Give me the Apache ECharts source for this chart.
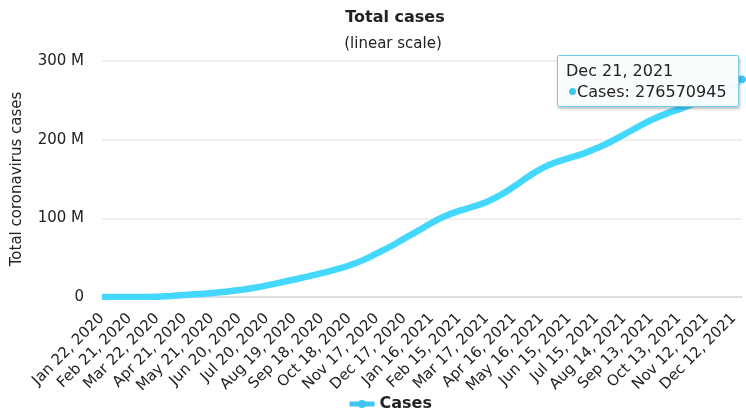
<!DOCTYPE html>
<html>
<head>
<meta charset="utf-8">
<script src="https://cdn.jsdelivr.net/npm/echarts@6/dist/echarts.min.js"></script>
<style>
html,body{margin:0;padding:0;background:#fff;}
#chart{width:746px;height:417px;}
</style>
</head>
<body>
<div id="chart"></div>
<script>
// Category axis: daily dates from Jan 22, 2020 to Dec 21, 2021
var startDate = [2020, 0, 22];
var dayCount = 700;
var monthNames = ['Jan','Feb','Mar','Apr','May','Jun','Jul','Aug','Sep','Oct','Nov','Dec'];
function fmt(d){ return monthNames[d.getUTCMonth()] + ' ' + d.getUTCDate() + ', ' + d.getUTCFullYear(); }
var categories = [];
for (var i = 0; i < dayCount; i++) {
  categories.push(fmt(new Date(Date.UTC(startDate[0], startDate[1], startDate[2] + i))));
}

var sampleDates = [
  'Jan 22, 2020','Feb 6, 2020','Feb 21, 2020','Mar 7, 2020','Mar 22, 2020','Apr 6, 2020','Apr 21, 2020',
  'May 6, 2020','May 21, 2020','Jun 5, 2020','Jun 20, 2020','Jul 5, 2020','Jul 20, 2020','Aug 4, 2020',
  'Aug 19, 2020','Sep 3, 2020','Sep 18, 2020','Oct 3, 2020','Oct 18, 2020','Nov 2, 2020','Nov 17, 2020',
  'Dec 2, 2020','Dec 17, 2020','Jan 1, 2021','Jan 16, 2021','Jan 31, 2021','Feb 15, 2021','Mar 2, 2021',
  'Mar 17, 2021','Apr 1, 2021','Apr 16, 2021','May 1, 2021','May 16, 2021','May 31, 2021','Jun 15, 2021',
  'Jun 30, 2021','Jul 15, 2021','Jul 30, 2021','Aug 14, 2021','Aug 29, 2021','Sep 13, 2021','Sep 28, 2021',
  'Oct 13, 2021','Oct 28, 2021','Nov 12, 2021','Nov 27, 2021','Dec 12, 2021','Dec 21, 2021'
];
var caseValues = [
  557, 30800, 78600, 105800, 337000, 1346000, 2550000,
  3780000, 5100000, 6730000, 8780000, 11400000, 14700000, 18400000,
  22300000, 26200000, 30400000, 34800000, 40100000, 46900000, 55400000,
  64200000, 74300000, 84000000, 94200000, 102900000, 109400000, 114700000,
  120900000, 129500000, 140500000, 152600000, 163300000, 171000000, 176500000,
  182000000, 189000000, 197000000, 206500000, 216000000, 225000000, 232500000,
  238500000, 245000000, 252000000, 260800000, 270000000, 276570945
];
var yTicks = [0, 100000000, 200000000, 300000000];
var seriesName = 'Cases';

var lineColor = '#3ec5f3';
var fontFam = '"DejaVu Sans", Verdana, sans-serif';

var chart = echarts.init(document.getElementById('chart'));
var seriesData = sampleDates.map(function(d, i){ return [d, caseValues[i]]; });

chart.setOption({
  animation: false,
  textStyle: { fontFamily: fontFam },
  title: [
    { text: 'Total cases', left: 390, textAlign: 'center', top: 5,
      textStyle: { fontFamily: fontFam, fontSize: 16, fontWeight: 'bold', color: '#222' } },
    { text: '(linear scale)', left: 388, textAlign: 'center', top: 32,
      textStyle: { fontFamily: fontFam, fontSize: 15, fontWeight: 'normal', color: '#222' } }
  ],
  legend: {
    data: [seriesName], left: 342, top: 391,
    itemWidth: 25, itemHeight: 10, itemGap: 4,
    lineStyle: { width: 5 },
    itemStyle: { borderWidth: 0 },
    textStyle: { fontFamily: fontFam, fontSize: 16, fontWeight: 'bold', color: '#222' }
  },
  grid: { left: 102, right: 4, top: 61, bottom: 120 },
  tooltip: {
    trigger: 'axis',
    triggerOn: 'none',
    alwaysShowContent: true,
    axisPointer: { type: 'none' },
    position: [557, 55],
    backgroundColor: 'rgba(250,253,254,0.96)',
    borderColor: '#6fcdee',
    borderWidth: 1,
    borderRadius: 2,
    padding: [4, 11, 4, 8],
    extraCssText: 'box-shadow: 1px 2px 3px rgba(0,0,0,0.25);',
    textStyle: { fontFamily: fontFam, fontSize: 16, color: '#222' },
    formatter: function(params){
      var p = params[0];
      return '<div style="line-height:21px;font-family:' + fontFam.replace(/"/g,"'") + ';font-size:16px;color:#222">' +
        p.axisValue + '<br/>' +
        '<span style="display:inline-block;width:7px;height:7px;border-radius:50%;background:' + lineColor + ';margin:0 1px 2px 3px;"></span>' +
        seriesName + ': ' + p.value[1] + '</div>';
    }
  },
  xAxis: {
    type: 'category',
    data: categories,
    boundaryGap: false,
    axisLine: { lineStyle: { color: '#d6d6dc', width: 1.5 } },
    axisTick: { show: false },
    axisLabel: { interval: 29, rotate: 45, margin: 19, fontSize: 15, color: '#222', fontFamily: fontFam },
    splitLine: { show: false }
  },
  yAxis: {
    type: 'value',
    min: yTicks[0], max: yTicks[yTicks.length - 1], interval: 100000000,
    name: 'Total coronavirus cases',
    nameLocation: 'middle',
    nameGap: 77,
    nameTextStyle: { fontFamily: fontFam, fontSize: 15, color: '#222' },
    axisLine: { show: false },
    axisTick: { show: false },
    axisLabel: {
      margin: 18, fontSize: 15, color: '#222', fontFamily: fontFam,
      formatter: function(v){ return v === 0 ? '0' : (v / 1000000) + ' M'; }
    },
    splitLine: { lineStyle: { color: '#ebebeb', width: 1.5 } }
  },
  series: [{
    name: seriesName,
    type: 'line',
    data: seriesData,
    smooth: true,
    showSymbol: false,
    symbol: 'circle',
    symbolSize: 8,
    lineStyle: { color: lineColor, width: 6.5 },
    itemStyle: { color: lineColor, borderColor: '#ffffff', borderWidth: 1 },
    emphasis: { lineStyle: { width: 6.5 } }
  }]
});

chart.dispatchAction({ type: 'showTip', seriesIndex: 0, dataIndex: caseValues.length - 1 });
</script>
</body>
</html>
